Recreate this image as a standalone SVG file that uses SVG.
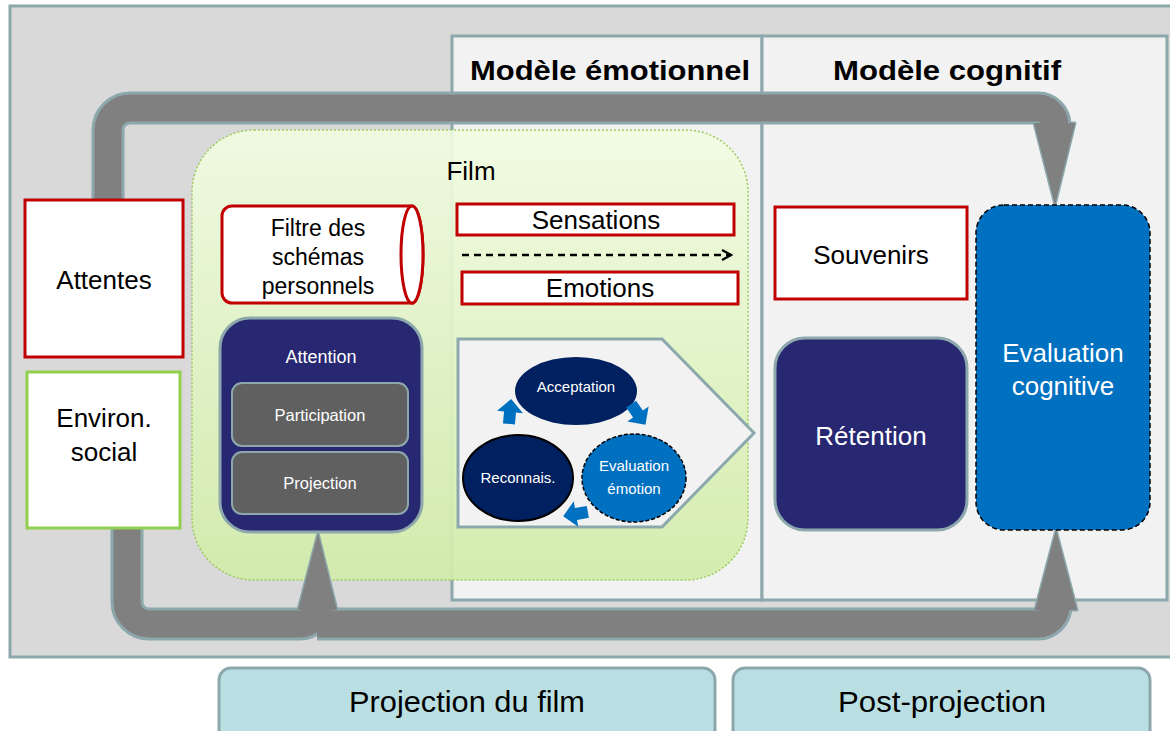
<svg xmlns="http://www.w3.org/2000/svg" width="1170" height="731" viewBox="0 0 1170 731">
<defs>
<linearGradient id="filmGrad" x1="0" y1="0" x2="0" y2="1">
<stop offset="0" stop-color="#F1FCE2"/>
<stop offset="1" stop-color="#D2ECA9"/>
</linearGradient>
<marker id="chev" viewBox="0 0 12 12" refX="10" refY="6" markerWidth="12" markerHeight="12" markerUnits="userSpaceOnUse" orient="auto">
<path d="M1,1 L10,6 L1,11" fill="none" stroke="#000" stroke-width="2.2"/>
</marker>
<polygon id="blueArrow" points="-12,-6 0,-6 0,-13 13,0 0,13 0,6 -12,6"/>
</defs>
<style>
.t{font-family:"Liberation Sans",Arial,sans-serif;}
.hdr{font-family:"Liberation Sans",Arial,sans-serif;font-weight:bold;font-size:28px;fill:#000;text-anchor:middle;}
.blk{fill:#000;text-anchor:middle;}
.wht{fill:#fff;text-anchor:middle;}
.redbox{fill:#fff;stroke:#C00000;stroke-width:3;}
.panel{fill:#F2F2F2;stroke:#8DA8AC;stroke-width:3;}
.bandO{fill:none;stroke:#8DA8AC;stroke-width:33;}
.bandI{fill:none;stroke:#808080;stroke-width:27;}
.headO{fill:#8DA8AC;stroke:#8DA8AC;stroke-width:3;stroke-linejoin:round;}
.headI{fill:#808080;}
.navy{fill:#282772;stroke:#8DA8AC;stroke-width:3;}
.grayb{fill:#606060;stroke:#8DA8AC;stroke-width:2;}
.phase{fill:#BADFE2;stroke:#8DA8AC;stroke-width:3;}
.barrow{fill:#0070C0;}
</style>

<!-- background -->
<rect x="10" y="6" width="1175" height="651" fill="#D9D9D9" stroke="#8DA8AC" stroke-width="3"/>

<!-- panels -->
<g id="panel-emotionnel">
<rect class="panel" x="452" y="36" width="310" height="564"/>
<text class="hdr" x="610" y="80" textLength="280" lengthAdjust="spacingAndGlyphs">Modèle émotionnel</text>
</g>
<g id="panel-cognitif">
<rect class="panel" x="762" y="36" width="405" height="564"/>
<text class="hdr" x="947" y="80" textLength="228" lengthAdjust="spacingAndGlyphs">Modèle cognitif</text>
</g>

<!-- film -->
<g id="film">
<rect x="192" y="130" width="556" height="450" rx="62" ry="62" fill="url(#filmGrad)" fill-opacity="0.92" stroke="#9CCB5C" stroke-width="1.5" stroke-dasharray="2 2"/>
<text class="t blk" x="471" y="180" font-size="26">Film</text>
</g>

<!-- connectors -->
<g id="connectors">
<path class="bandO" d="M108,260 V130 A22,22 0 0 1 130,108 H1038 A17,17 0 0 1 1055,125 V128"/>
<polygon class="headO" points="1034,123 1075,123 1055,205"/>
<path class="bandO" d="M127,520 V602 A22,22 0 0 0 149,624 H300 A17,17 0 0 0 317,607 V605"/>
<polygon class="headO" points="298,610 337,610 318,533"/>
<path class="bandO" d="M317,624 H1038 A18,18 0 0 0 1056,606 V605"/>
<polygon class="headO" points="1035,610 1077,610 1056,530"/>

<path class="bandI" d="M108,260 V130 A22,22 0 0 1 130,108 H1038 A17,17 0 0 1 1055,125 V128"/>
<polygon class="headI" points="1034,123 1075,123 1055,205"/>
<path class="bandI" d="M127,520 V602 A22,22 0 0 0 149,624 H300 A17,17 0 0 0 317,607 V605"/>
<polygon class="headI" points="298,610 337,610 318,533"/>
<path class="bandI" d="M317,624 H1038 A18,18 0 0 0 1056,606 V605"/>
<polygon class="headI" points="1035,610 1077,610 1056,530"/>

<line x1="462" y1="255" x2="731" y2="255" stroke="#000" stroke-width="2.5" stroke-dasharray="7 5" marker-end="url(#chev)"/>
</g>

<!-- left inputs -->
<g id="attentes">
<rect class="redbox" x="25" y="200" width="158" height="157"/>
<text class="t blk" x="104" y="289" font-size="26">Attentes</text>
</g>
<g id="environ-social">
<rect x="27" y="372" width="153" height="156" fill="#fff" stroke="#92D050" stroke-width="3"/>
<text class="t blk" x="104" y="427" font-size="26">Environ.</text>
<text class="t blk" x="104" y="461" font-size="26">social</text>
</g>

<!-- filtre -->
<g id="filtre">
<path d="M232,206 H412 A11,48.5 0 0 1 412,303 H232 A10,10 0 0 1 222,293 V216 A10,10 0 0 1 232,206 Z" fill="#fff" stroke="#C00000" stroke-width="3"/>
<ellipse cx="412" cy="254.5" rx="11" ry="48.5" fill="#fff" stroke="#C00000" stroke-width="3"/>
<text class="t blk" x="318" y="236" font-size="23">Filtre des</text>
<text class="t blk" x="318" y="265" font-size="23">schémas</text>
<text class="t blk" x="318" y="294" font-size="23">personnels</text>
</g>

<g id="sensations">
<rect class="redbox" x="457" y="204" width="277" height="31"/>
<text class="t blk" x="596" y="229" font-size="26">Sensations</text>
</g>
<g id="emotions">
<rect class="redbox" x="462" y="272" width="276" height="32"/>
<text class="t blk" x="600" y="297" font-size="26">Emotions</text>
</g>

<!-- attention -->
<g id="attention">
<rect class="navy" x="220" y="318" width="202" height="214" rx="30" ry="30"/>
<text class="t wht" x="321" y="363" font-size="18">Attention</text>
</g>
<g id="participation">
<rect class="grayb" x="232" y="383" width="176" height="63" rx="10" ry="10"/>
<text class="t wht" x="320" y="421" font-size="16.5">Participation</text>
</g>
<g id="projection">
<rect class="grayb" x="232" y="452" width="176" height="62" rx="10" ry="10"/>
<text class="t wht" x="320" y="489" font-size="16.5">Projection</text>
</g>

<!-- emotional cycle -->
<g id="cycle">
<polygon points="458,339 662,339 754,433 662,527 458,527" fill="#F2F2F2" stroke="#8DA8AC" stroke-width="3"/>
</g>
<g id="acceptation">
<ellipse cx="576" cy="391" rx="61" ry="34" fill="#002060"/>
<text class="t wht" x="576" y="392" font-size="15">Acceptation</text>
</g>
<g id="reconnais">
<ellipse cx="518" cy="478" rx="55" ry="43" fill="#002060" stroke="#000" stroke-width="2"/>
<text class="t wht" x="518" y="483" font-size="15">Reconnais.</text>
</g>
<g id="evaluation-emotion">
<ellipse cx="634" cy="478" rx="52" ry="44" fill="#0070C0" stroke="#000" stroke-width="1.5" stroke-dasharray="4 2"/>
<text class="t wht" x="634" y="471" font-size="15">Evaluation</text>
<text class="t wht" x="634" y="494" font-size="15">émotion</text>
</g>
<g id="cycle-arrows">
<use href="#blueArrow" class="barrow" transform="translate(510,412) rotate(-85)"/>
<use href="#blueArrow" class="barrow" transform="translate(638,414) rotate(55)"/>
<use href="#blueArrow" class="barrow" transform="translate(576,514) rotate(170)"/>
</g>

<!-- cognitive -->
<g id="souvenirs">
<rect class="redbox" x="775" y="207" width="192" height="92"/>
<text class="t blk" x="871" y="264" font-size="26">Souvenirs</text>
</g>
<g id="retention">
<rect class="navy" x="775" y="338" width="192" height="192" rx="30" ry="30"/>
<text class="t wht" x="871" y="445" font-size="26">Rétention</text>
</g>
<g id="evaluation-cognitive">
<rect x="976" y="205" width="174" height="325" rx="28" ry="28" fill="#0070C0" stroke="#000" stroke-width="1.5" stroke-dasharray="5 3"/>
<text class="t wht" x="1063" y="362" font-size="26">Evaluation</text>
<text class="t wht" x="1063" y="395" font-size="26">cognitive</text>
</g>

<!-- phases -->
<g id="phase-projection">
<rect class="phase" x="219" y="668" width="496" height="80" rx="12" ry="12"/>
<text class="t blk" x="467" y="712" font-size="29" textLength="236" lengthAdjust="spacingAndGlyphs">Projection du film</text>
</g>
<g id="phase-post">
<rect class="phase" x="733" y="668" width="417" height="80" rx="12" ry="12"/>
<text class="t blk" x="942" y="712" font-size="29" textLength="208" lengthAdjust="spacingAndGlyphs">Post-projection</text>
</g>
</svg>
